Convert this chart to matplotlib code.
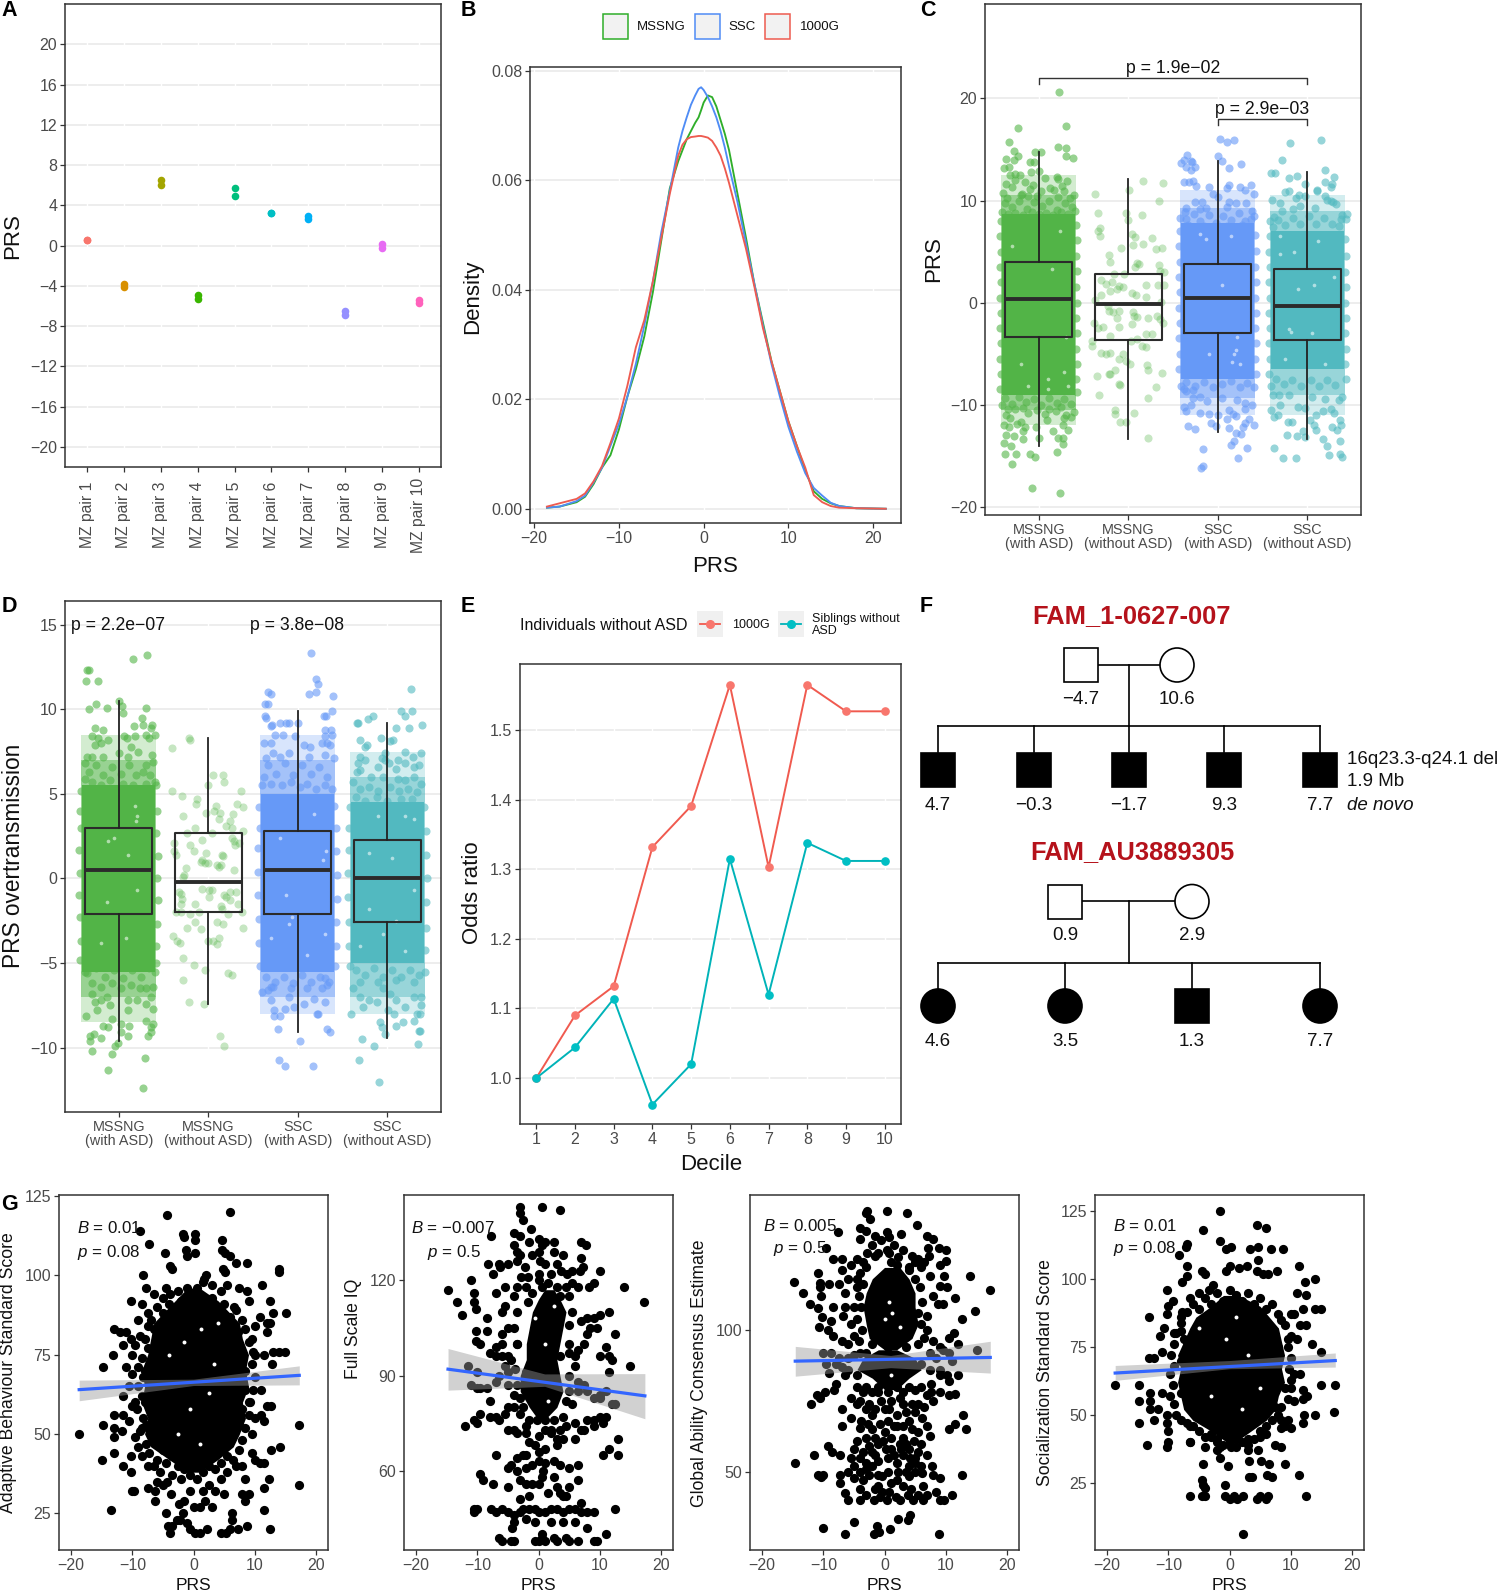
import matplotlib
matplotlib.use('Agg')
import matplotlib.pyplot as plt
from matplotlib.patches import Rectangle, Ellipse

plt.rcParams['font.family'] = ['Liberation Sans', 'DejaVu Sans']
plt.rcParams['mathtext.fontset'] = 'custom'
plt.rcParams['mathtext.rm'] = 'Liberation Sans'
plt.rcParams['mathtext.it'] = 'Liberation Sans:italic'

W, H = 1500, 1592
DARK = '#333333'
GREEN, BLUE, TEAL = '#52B447', '#6699F7', '#52B9C0'
RED_LINE = '#F05A4F'

# ---------- Panel A ----------
mz_labels = ['MZ pair %d' % i for i in range(1, 11)]
mz_first = [0.6, -3.8, 6.5, -4.9, 5.7, 3.2, 2.9, -6.5, 0.2, -5.4]
mz_second = [0.6, -4.1, 6.0, -5.3, 4.9, 3.2, 2.6, -6.9, -0.2, -5.7]
mz_colors = ['#F8766D', '#D89000', '#A3A500', '#39B600', '#00BF7D', '#00BFC4', '#00B0F6', '#9590FF', '#E76BF3', '#FF62BC']

# ---------- Panel B ----------
dens_x = [-18.5, -17, -15, -14, -13, -12, -11, -10, -9, -8, -7, -6, -5, -4, -3, -2.5, -2, -1.5, -1, -.6, -.3, 0, .5, 1, 1.5, 2, 2.5, 3, 4, 5, 6, 7, 8, 9, 10, 11, 12, 13, 14, 15, 16, 18, 21.5]
dens_mssng = [.0002, .0004, .0012, .0022, .0045, .0075, .0098, .0145, .0205, .0255, .0315, .0395, .049, .0585, .0635, .0655, .0675, .069, .0705, .0715, .0728, .0742, .0755, .0752, .0735, .071, .0685, .0655, .0575, .0495, .041, .034, .027, .0215, .016, .0115, .007, .0032, .0018, .001, .0005, .0001, 0]
dens_ssc = [.0002, .0004, .0014, .0024, .0048, .0075, .0115, .0155, .0205, .0265, .0335, .0415, .0505, .058, .066, .069, .0715, .0738, .0755, .0767, .077, .0765, .0752, .0735, .0715, .069, .066, .0625, .056, .0485, .041, .0335, .0265, .0205, .015, .0105, .0065, .0038, .0024, .0011, .0005, .0001, 0]
dens_1000g = [.0004, .001, .0018, .0028, .005, .0078, .012, .0165, .0225, .0295, .0345, .0415, .0495, .0575, .0645, .0665, .0675, .0679, .068, .0681, .0681, .068, .0678, .0672, .066, .0645, .0622, .0595, .0535, .0475, .0405, .033, .027, .0215, .016, .0115, .0075, .0025, .0012, .0005, .0002, .0001, 0]

# ---------- Panels C, D ----------
group_labels = ['MSSNG\n(with ASD)', 'MSSNG\n(without ASD)', 'SSC\n(with ASD)', 'SSC\n(without ASD)']
c_box = [(-3.4, 0.4, 4.0, -14.0, 14.8), (-3.7, -0.15, 2.8, -13.4, 12.1), (-3.0, 0.45, 3.8, -12.7, 13.9), (-3.7, -0.3, 3.3, -13.4, 12.8)]
d_box = [(-2.1, 0.5, 3.0, -9.6, 10.5), (-2.0, -0.2, 2.7, -7.4, 8.3), (-2.1, 0.5, 2.8, -9.1, 9.9), (-2.55, 0.05, 2.25, -9.4, 9.2)]
# overplotted part of each cloud: y ranges, from thin coverage to saturated
c_cloud = [[(-12.0, 12.5), (-10.5, 10.5), (-9.0, 8.7)], None, [(-11.0, 11.0), (-9.3, 9.3), (-7.5, 7.8)], [(-11.0, 10.5), (-9.0, 9.0), (-6.5, 7.0)]]
d_cloud = [[(-8.5, 8.5), (-7.0, 7.0), (-5.5, 5.5)], None, [(-8.0, 8.5), (-7.0, 7.0), (-5.5, 5.0)], [(-8.0, 7.5), (-7.0, 6.0), (-5.0, 4.5)]]
cloud_alpha = [.25, .45, 1.0]
cloud_halfwidth = [.42, .42, .41]

c1_pts = [(.23,20.6),(-.23,17.1),(.31,17.3),(-.33,15.7),(.21,15.2),(.30,15.1),(-.28,14.9),(-.04,14.8),(.03,14.8),(-.23,14.4),(-.36,14.1),(-.28,14),(.31,14.4),(.38,14.2),(-.1,13.8),(-.05,13.8),(-.39,13.2),(-.33,13.3),(-.09,12.8),(0,12.9),(-.32,12.5),(-.21,12.5),(.2,12.3),(.07,12.2),(.32,11.9),(-.26,12),(-.37,11.6),(.26,11.4),(-.15,11.8),(.39,10.5),(-.4,10.7),(.13,11.2),(-.1,11.1),(.03,10.9),(.28,10.9),(-.3,11.3),(-.19,10.6),(.22,12.1),(-.27,12.6),(.17,11.0),(-.06,11.5),(-.39,-12),(-.37,-13),(-.39,-13.7),(-.31,-14),(-.38,-14.8),(-.25,-14.8),(-.3,-15.8),(-.1,-14.8),(-.04,-15.1),(.2,-14.6),(-.08,-18.2),(.24,-18.6),(.27,-13.8),(.22,-13.3),(.27,-13.3),(.33,-12.5),(.16,-12.6),(.27,-12),(0,-13.3),(-.18,-13.4),(-.28,-13.1),(-.15,-12.2),(-.24,-11.9),(-.32,-11.3),(.09,-11.5),(.31,-11),(.19,-10.6),(-.26,-10.4),(-.12,-10.8),(-.37,-11),(.39,-10.7),(.07,-10.9),(-.2,-11.7),(.36,-11.2),(-.18,-12.6),(-.33,-12.2),(.28,-11.3),(-.03,-12.2),
(-.38,9.8),(-.3,9.4),(-.22,10),(-.13,9.2),(-.05,9.9),(.04,9.5),(.12,10),(.2,9.1),(.29,9.8),(.37,9.4),(-.41,8.9),(-.34,8.7),(-.26,8.8),(-.17,8.6),(-.08,8.9),(0,8.7),(.08,8.8),(.16,8.6),(.25,8.9),(.33,8.7),(.41,9),(-.35,10.2),(-.2,10.5),(-.02,10.4),(.22,10.3),(.35,10.2),(-.12,10.4),(-.38,-9.3),(-.3,-9.9),(-.22,-9.2),(-.14,-9.7),(-.05,-9.4),(.03,-10),(.11,-9.3),(.2,-9.8),(.28,-9.4),(.36,-9.9),(-.41,-10),(-.34,-10.4),(-.18,-10.3),(-.02,-10.5),(.12,-10.4),(.25,-10.2),
(-.42,8),(.42,7.6),(-.43,6.5),(.43,6.1),(-.42,5),(.42,4.6),(-.43,3.5),(.43,3.1),(-.42,2),(.42,1.5),(-.43,.5),(.43,0),(-.42,-1),(.42,-1.5),(-.43,-2.5),(.43,-3),(-.42,-4),(.42,-4.5),(-.43,-5.5),(.43,-6),(-.42,-7),(.42,-7.5),(-.43,-8.5),(.43,-8.8)]
c1_specks = [(.28,-6.8),(.1,-7.5),(-.12,-8.2),(.24,7),(.1,-8.5),(-.3,5.5),(.31,-3.4),(.15,3.3),(-.2,-6),(.33,-8.2)]
c2_pts = [(-.37,10.6),(-.34,8.8),(-.31,7.3),(-.34,7),(-.32,6.5),(.17,11.9),(.39,11.7),(.01,11),(.34,10),(-.03,8.8),(0,8.1),(.15,8.6),(.04,6.7),(.07,6.4),(.27,6.3),(.16,5.7),(.05,5.6),(-.08,5.4),(.31,5.3),(.38,5.4),(-.22,4.7),(-.2,4),(.1,3.9),(.12,3.8),(.34,3.7),(.4,3.0),(.35,3.1),(-.16,2.8),(-.05,2.8),(.08,3.5),(-.3,2.2),(-.25,1.8),(-.18,2),(-.1,1.6),(-.06,1.5),(.2,1.7),(.33,1.7),(.4,1.7),(-.37,.3),(-.3,.7),(-.2,1.1),(-.13,1.3),(.04,.9),(.09,.7),(.2,.6),(.37,.1),(-.23,-.3),(-.22,-.8),(-.17,-.9),(-.1,-.8),(.05,-.9),(.06,-1.3),(.1,-1.4),(.22,-1.5),(.32,-1.3),(.36,-1.6),(.39,-2),(-.12,-1.5),(-.38,-2),(-.28,-2.4),(-.34,-2.5),(-.1,-2.4),(.04,-2.1),(.2,-3.1),(.27,-3.1),(-.2,-3.3),(-.4,-3.8),(-.4,-4.2),(-.3,-4.9),(-.25,-5),(-.2,-4.9),(-.06,-5),(.15,-4.2),(.2,-4.3),(.1,-3.6),(.03,-3.8),(-.03,-5.7),(-.1,-5.5),(.02,-6),(.21,-6.1),(.22,-6.6),(-.15,-6.6),(-.22,-7),(-.35,-7.2),(-.2,-7),(.38,-6.9),(-.1,-8),(-.09,-8.1),(.31,-8.3),(-.33,-9),(.22,-9.3),(-.15,-10.5),(-.15,-10.9),(.06,-10.8),(-.09,-11.7),(-.03,-11.7),(.22,-13.3)]
c3_pts = [(.02,16),(.1,15.7),(.18,15.9),(0,14.4),(-.34,14.5),(-.38,14),(-.3,13.9),(-.41,13.7),(-.36,13.3),(-.29,13.8),(-.3,13),(-.25,13.3),(.05,13.9),(.26,13.6),(.13,13.2),(-.38,11.8),(-.32,11.8),(-.28,11.9),(-.24,11.4),(-.1,11.3),(.1,11.2),(.13,11.5),(.25,11.3),(.37,11.5),(.3,11),(.4,10.6),(-.05,10.6),(0,10.3),(-.25,9.9),(-.18,9.9),(.13,9.9),(.2,9.8),(.32,9.8),(-.36,9.3),(-.37,8.9),(.38,9),(-.42,8.3),(.1,9.4),(-.13,9.3),(.4,8.5),(-.2,9.2),
(-.35,8.2),(-.27,8.7),(-.2,8),(-.1,8.6),(-.02,7.8),(.06,8.5),(.15,8.1),(.24,8.8),(.3,8),(.37,8.2),(-.33,7.6),(-.15,7.5),(.1,7.5),(.27,7.6),
(-.42,7),(.42,6.6),(-.43,5.5),(.43,5.1),(-.42,4),(.42,3.5),(-.43,2.5),(.43,2),(-.42,1),(.42,.5),(-.43,-.5),(.43,-1),(-.42,-2),(.42,-2.5),(-.43,-3.5),(.43,-4),(-.42,-5),(.42,-5.5),(-.43,-6.5),(.43,-7),
(-.35,-7.8),(-.25,-8.2),(-.15,-7.8),(-.05,-8.3),(.05,-8),(.15,-7.7),(.25,-8.3),(.33,-7.9),(.4,-8.3),(-.41,-8.2),
(-.38,-8.5),(-.35,-8.7),(-.28,-8.6),(-.2,-9.2),(-.38,-10.2),(-.36,-10.6),(-.3,-10),(-.2,-10.8),(-.1,-10.9),(.13,-10.5),(.17,-10.9),(.3,-9.8),(.38,-10),(.3,-10.4),(.2,-11.1),(.35,-11.4),(.4,-12),(.3,-11.8),(-.33,-12.1),(-.25,-12.4),(-.08,-11.8),(-.02,-12.1),(.13,-12.3),(.28,-12.2),(.26,-12.9),(.2,-12.8),(-.17,-14.3),(.18,-13.6),(.15,-13.9),(.33,-14.2),(.23,-15.2),(-.17,-16),(-.19,-16.2),(.1,-11.4),(0,-11),(-.12,-9.6),(.05,-9.3),(.22,-9.5),(-.28,-9.3)]
c3_specks = [(.2,-4.6),(.18,-5),(.16,-5.8),(-.1,-5),(.25,-6),(.22,-3.4),(-.2,6.7),(.15,6.5),(-.13,6.2),(.05,1.7)]
c4_pts = [(.15,15.9),(-.19,15.6),(-.28,14),(-.4,12.7),(-.36,12.7),(-.2,12.2),(-.11,12.4),(.2,13),(.3,12.3),(.2,11.8),(.28,11.6),(.26,11.3),(-.02,11.6),(.11,10.9),(.11,11),(-.2,10.9),(-.25,10.8),(-.39,10.1),(-.13,10.2),(-.09,10.5),(-.03,10.4),(.2,10.4),(.22,10.1),(.26,10),(.29,9.9),(.32,9.7),(-.3,9.8),(-.16,9.2),(-.08,9.5),(.09,9.3),(.39,8.6),(.44,8.7),(.43,8.2),(-.42,8),(-.37,8.4),(-.28,9),(.38,8.2),
(-.33,8.1),(-.25,7.6),(-.16,8.3),(-.08,7.7),(.02,8.5),(.1,7.7),(.19,8.3),(.28,7.7),(.35,7.5),(-.38,7.4),
(-.42,6.5),(.42,6.2),(-.43,5),(.43,4.6),(-.42,3.5),(.42,3),(-.43,2),(.43,1.5),(-.42,.5),(.42,0),(-.43,-1),(.43,-1.5),(-.42,-2.5),(.42,-3),(-.43,-4),(.43,-4.5),(-.42,-5.5),(.42,-6),(-.43,-7),(.43,-7.5),
(-.35,-7.5),(-.26,-8),(-.17,-7.6),(-.07,-8.2),(.04,-7.6),(.13,-8.2),(.22,-7.6),(.31,-8.1),(-.4,-8.2),
(-.38,-9),(-.32,-9),(-.3,-10),(-.4,-10.5),(-.37,-11.2),(-.33,-11),(-.22,-11.7),(-.17,-11.7),(-.1,-10.2),(-.03,-10.3),(.03,-11.5),(.1,-11),(.18,-10.6),(.27,-10.4),(.35,-9.5),(.39,-9.2),(.3,-10.8),(.37,-11.5),(.38,-12),(.28,-12.2),(.33,-12.5),(.08,-12),(.1,-12.5),(-.05,-12.6),(-.12,-13.1),(-.23,-13),(-.02,-13.2),(.18,-13.4),(.37,-13.6),(.22,-14),(.24,-14.9),(.37,-14.8),(.39,-15.1),(-.37,-14.2),(-.27,-15.2),(-.13,-15.2),(-.2,-9),(.05,-9.2),(.2,-9.4)]
c4_specks = [(-.2,-2.6),(-.18,-2.9),(-.3,4.8),(-.1,1.3),(.08,1.7),(-.15,5),(.12,6),(-.25,-5.5),(.2,-6),(.3,2.5),(.05,-3),(-.3,6.5)]

d1_pts = [(-.35,12.3),(-.33,12.3),(-.36,11.7),(-.23,11.7),(.16,13),(.32,13.2),(-.33,10),(-.25,10.3),(-.13,10.1),(0,10.5),(.04,10.2),(.3,10.1),(.26,9.5),(.05,9.8),(.37,9.1),(.36,8.9),(-.27,8.9),(-.18,8.8),(.17,9),(.27,9.1),(-.3,8.4),(-.23,8.3),(.06,8.4),(.09,8.3),(.18,8.4),(.3,8.5),(.34,8.3),(.4,8.5),(-.12,8.2),(-.26,7.9),(-.2,8),(.14,7.8),(.37,7.3),(-.35,7.2),(-.3,7.2),(-.18,7.2),(0,7.4),(.1,7.2),(.22,7.5),(.38,6.9),(-.38,6.8),(.3,6.7),(-.33,6.3),(-.25,6.7),(-.17,6.1),(-.08,6.6),(.02,6.2),(.11,6.7),(.19,6.1),(.27,6.3),(.35,6.1),(-.38,5.9),(-.3,5.7),(-.2,5.5),(-.1,5.8),(.05,5.6),(.16,5.5),(.3,5.6),(.4,5.7),
(-.42,5.2),(.42,5.5),(-.43,4),(.43,4),(-.42,3),(.42,2.7),(-.44,1.7),(.44,1.3),(-.43,.3),(.43,0),(-.44,-1),(.44,-1.3),(-.43,-2.3),(.43,-2.7),(-.42,-3.7),(.42,-4),(-.43,-4.8),(.42,-5),
(-.35,-5.6),(-.25,-5.3),(-.15,-5.8),(-.05,-5.4),(.05,-5.9),(.15,-5.4),(.25,-5.8),(.34,-5.3),(-.3,-6.2),(-.2,-6.4),(-.08,-6.2),(.03,-6.5),(.14,-6.3),(.24,-6.5),
(-.3,-6.8),(-.36,-8.1),(-.27,-7.3),(-.2,-7.2),(-.13,-7),(.1,-7.2),(.2,-7.2),(.36,-7),(.3,-6.5),(.38,-6.4),(-.38,-5.5),(.4,-5.5),(-.24,-7.8),(-.1,-7.5),(.1,-7.8),(.3,-7.4),(.38,-7.7),(.3,-8.4),(.38,-8.6),(.36,-8.8),(-.18,-8.7),(-.12,-8.8),(-.08,-8.3),(.02,-8.6),(.11,-8.7),(-.32,-9.3),(-.28,-9.2),(-.2,-9.4),(-.32,-9.6),(-.3,-10.2),(-.04,-9.9),(-.01,-9.7),(.02,-9.1),(.1,-9.3),(.36,-9.1),(.33,-9.3),(-.08,-10.4),(.29,-10.6),(-.12,-11.3),(.27,-12.4)]
d1_specks = [(.2,3.7),(.19,3.4),(-.12,2.2),(.1,1.4),(-.13,-1.4),(.2,-.7),(.08,-3.5),(.18,4.3),(-.2,-3.8),(-.05,2.4)]
d2_pts = [(-.22,8.3),(-.2,8.2),(-.4,7.7),(.05,6.1),(.16,6.1),(.18,5.7),(0,5.5),(-.4,5.2),(-.29,4.9),(.37,5.2),(-.12,4.7),(-.14,4.4),(.32,4.4),(.39,4.2),(.09,4.3),(.06,4),(-.03,3.9),(.13,3.9),(.28,3.8),(.12,3.5),(-.28,3.7),(.24,3.4),(.27,3),(-.15,3),(.2,3.1),(.39,2.8),(-.24,2.7),(.04,2.7),(-.38,2.1),(-.07,2.3),(.26,2.4),(.29,2.2),(.34,2.1),(.3,2),(-.2,2),(-.16,1.6),(-.38,1.6),(-.36,1.4),(-.02,1.5),(.15,1.4),(.16,1.3),(-.07,1.1),(-.08,1),(-.04,.9),(0,.9),(.1,.8),(.12,.7),(.14,.8),(.29,.5),(-.25,.6),(-.27,.2),(-.28,.1),(-.07,-.6),(.01,-.7),(.04,-.7),(-.33,-.8),(-.3,-.9),(-.29,-1.2),(.01,-1.1),(.18,-1),(.2,-1.1),(.24,-.8),(.31,-.8),(.33,-1.5),(-.3,-1.5),(-.15,-1.5),(.14,-1.6),(.24,-1.3),(.15,-1.8),(.38,-2),(-.36,-2),(-.3,-2),(-.2,-2.1),(-.1,-2),(.22,-2.1),(.1,-2.6),(.17,-2.7),(.39,-2.9),(-.15,-2.6),(-.24,-2.9),(-.08,-3),(-.39,-3.4),(-.35,-3.7),(-.32,-3.8),(0,-3.7),(.05,-3.7),(.12,-3.5),(.1,-3.9),(-.28,-4.7),(-.16,-5.1),(-.04,-5.4),(.22,-5.6),(.26,-5.7),(-.28,-6),(-.21,-7.3),(-.05,-7.4),(.13,-9.3),(.18,-9.9)]
d3_pts = [(.15,13.3),(.2,11.8),(.23,11.5),(.2,11),(.12,10.9),(-.33,11),(-.3,10.9),(.39,10.8),(-.37,10.3),(-.33,10.3),(.38,9.9),(-.37,9.6),(-.36,9.5),(.29,9.6),(.31,9.6),(-.29,9.1),(-.2,9.2),(-.13,9.2),(-.1,9.2),(0,9.2),(-.3,9),(.3,8.8),(.37,8.8),(-.25,8.5),(-.17,8.5),(-.03,8.4),(.3,8.4),(.38,8.5),(-.38,8),(-.3,8),(.27,8),(.33,8),(.07,7.9),(.14,7.8),(.36,7.9),(-.28,7.4),(.3,7.3),(.4,7.1),(-.36,7.1),(-.2,7.2),(-.1,7.4),(.13,7.2),
(-.33,6.7),(-.24,6.2),(-.14,6.8),(-.05,6.1),(.05,6.7),(.15,6.2),(.24,6.6),(.33,6),(-.38,6),(-.3,5.6),(-.18,5.5),(-.08,5.7),(.03,5.4),(.1,5.6),(.2,5.3),(.3,5.5),(.38,5.3),(-.4,5.5),(.41,4.3),
(-.43,4.2),(-.42,3),(.43,3),(-.44,1.8),(.43,1.6),(-.44,.4),(.44,.2),(-.44,-1),(.44,-1.2),(-.43,-2.4),(.43,-2.6),(-.43,-3.8),(.43,-4),(-.42,-5.2),(.42,-5.2),
(-.35,-5.8),(-.25,-6.1),(-.15,-5.8),(-.05,-6.2),(.05,-5.7),(.15,-6.1),(.25,-5.8),(.35,-6.1),(-.3,-6.4),(-.08,-6.5),(.1,-6.5),(.3,-5.9),
(-.4,-6.7),(-.33,-6.6),(-.28,-6.4),(-.3,-7.2),(-.27,-7.8),(-.26,-8.1),(-.2,-8.1),(-.14,-7.7),(-.1,-7),(-.04,-7.6),(.07,-7.4),(.18,-7.1),(.27,-6.5),(.3,-7.3),(.33,-6.3),(.22,-8),(.23,-8),(.33,-8.9),(.36,-9.1),(-.22,-8.9),(.03,-9.6),(-.21,-10.7),(-.14,-11.1),(.17,-11.1)]
d3_specks = [(-.1,-2.7),(-.06,-2.3),(.31,1.6),(.28,1.1),(-.2,2.4),(-.13,-1),(.18,3.8),(.3,-3.3),(-.3,-3.5),(.1,-4.5)]
d4_pts = [(.26,11.2),(.15,9.9),(.2,9.6),(.28,9.9),(.39,9.1),(-.34,9.2),(-.33,9.2),(-.22,9.4),(-.16,9.6),(.24,8.9),(.1,8.9),(-.3,8.2),(.03,8.1),(.06,8.2),(-.23,7.9),(-.25,7.8),(-.07,8.3),(-.3,7.2),(-.25,7),(-.06,7.1),(-.03,7),(-.02,7.4),(.2,7.5),(.29,7.2),(.38,7.4),(-.33,6.8),(.02,6.8),(.12,7),(.2,6.8),(.35,6.7),(-.3,6.4),(-.34,6.3),(.1,6.5),(-.1,6.6),(.3,6.6),(-.18,6),(-.05,6),(.12,5.9),(.2,5.8),(.3,6),(-.38,5.7),(.38,5.6),
(-.3,5.3),(-.2,5.4),(-.1,5.2),(.03,5.4),(.13,5.2),(.23,5.3),(.33,5.1),(-.35,4.8),(-.25,4.6),(-.12,4.8),(0,4.6),(.15,4.7),(.28,4.7),
(-.42,4.2),(.41,4.2),(-.43,3),(.43,2.8),(-.43,1.7),(.43,1.4),(-.44,.3),(.44,0),(-.44,-1.1),(.43,-1.4),(-.43,-2.6),(.43,-2.9),(-.43,-4),(.42,-4.2),(-.42,-5.2),(.42,-5.5),
(-.35,-5.4),(-.25,-5.7),(-.15,-5.3),(-.05,-5.8),(.05,-5.4),(.15,-5.8),(.25,-5.4),(.35,-5.7),(-.3,-6.1),(-.1,-6.1),(.1,-6),(.3,-6.1),
(-.38,-6.5),(-.3,-7),(-.27,-7.6),(-.2,-7.2),(-.12,-7.3),(-.05,-6.5),(.03,-6.8),(.1,-7.2),(.2,-7.6),(.3,-7),(.38,-7),(.38,-7.5),(.37,-8),(.33,-8),(.3,-8.4),(-.4,-8),(.08,-8),(.01,-7.8),(-.08,-8.5),(-.06,-8.8),(.1,-8.7),(.17,-8.5),(-.03,-9.2),(.36,-9),(.35,-9),(-.28,-9.5),(-.15,-9.9),(.34,-9.8),(-.32,-10.7),(-.09,-12)]
d4_specks = [(.2,3.7),(.05,1.2),(-.2,1.5),(-.05,-3.3),(.1,-2.5),(.3,3.5),(-.3,-4),(.2,-4.3),(-.1,3.7),(.3,-.7),(-.2,-1.8)]

# ---------- Panel E ----------
deciles = [1, 2, 3, 4, 5, 6, 7, 8, 9, 10]
or_1000g = [1.0, 1.09, 1.132, 1.332, 1.391, 1.565, 1.303, 1.565, 1.527, 1.527]
or_sibs = [1.0, 1.044, 1.114, 0.962, 1.02, 1.315, 1.12, 1.338, 1.312, 1.312]

# ---------- Panel F ----------
fam1_title = 'FAM_1-0627-007'
fam1_parents = ['\u22124.7', '10.6']
fam1_kids = ['4.7', '\u22120.3', '\u22121.7', '9.3', '7.7']
fam2_title = 'FAM_AU3889305'
fam2_parents = ['0.9', '2.9']
fam2_kids = ['4.6', '3.5', '1.3', '7.7']
fam2_kid_sex = ['f', 'f', 'm', 'f']

# ---------- Panel G ----------
g_titles = ['Adaptive Behaviour Standard Score', 'Full Scale IQ', 'Global Ability Consensus Estimate', 'Socialization Standard Score']
g1_pts = [(-18.7,50),(-14.8,71),(-14.8,53),(-15,42),(-13.5,26),(-13,83),(-13.2,75),(-13,56),(-13,52),(-13,44),(-13,49),(-12,82),(-11.5,78),(-11.5,56),(-11.7,51),(-11.5,40),(-11,82),(-10.3,80),(-10.3,92),(-10.2,38),(-10,32),(-10.2,43),(-8.7,114),(-8.3,100),(-7.3,110),(-8.5,91),(-7.7,96),(-4.3,119),(-4.6,107),(-3.8,103),(-3.5,102),(-1.7,113),(-1.5,112),(.3,113),(.3,111),(-1.2,108),(-1,106),(.2,107),(4.6,111),(4.7,108),(5.2,107),(6,106),(6,120),(7,104),(8.7,104),(4.8,102),(5.2,101),(14,102),(14,101),(11.2,97),(12.5,92),(15.2,88),(13,88),(12.5,85),(13,76),(14,76),(15,76),(11.5,75),(12,82),(17.2,53),(17.2,34),(14.2,46),(12.7,45),(12.5,20),(11.5,26),(12.3,36),(11.5,33),(8.7,21),(8,31),(8.5,29),(9,31),(6.3,25),(6.3,23),(6,20),(5.3,19),(4.5,19),(7.3,20),(2.2,20),(1,19),(.3,19),(-.5,20),(-1,22),(-1.7,25),(-2.2,23),(-2.7,23),(-3.5,21),(-3.8,19),(-4.2,21),(-4.5,25),(-3.7,31),(-2.3,28),(-1.5,29),(0,27),(1.8,29),(1,27),(3,27),(-6.3,29),(-6.3,32),(-7.5,33),(-9.8,32),(-6,35),(-5,34),(-4.3,35),
(-10,69),(-11,71),(-10,75),(-9.5,78),(-9,86),(-8.7,81),(-10.5,65),(-11.5,62),(-10,59),(-10.5,54),(-9.5,49),(-9,46),(-8.5,43),(-7.5,40),(-6.5,40),(-5.5,38),(-3.5,37),(-2,36),(-.5,32),(1.5,32),(2.5,34),(3.5,32),(5,31),(5.5,38),(4.5,36),(7,40),(8,40),(8.5,36),(9.5,44),(10,42),(10.8,41),(11.5,41),(9.5,50),(10,55),(11,56),(12,59),(12.7,59),(11.5,54),(11,64),(12.8,72),(12,85),(10.8,87),(10,84),(9.5,80),(10,75),(8.8,95),(9,92),(7.5,96),(6.7,90),(5.5,97),(4.5,95),(3,97),(1.5,98),(.5,96),(-1,96),(-2.5,95),(-3.8,94),(-5,93),(-6.5,94),(-7.5,88),(-7.5,84),(2,100),(1.7,99),(-4.5,96),(-9.5,60),(-8.5,52),(9,60),
(-6,90),(-5,88),(-4,91),(-3,89),(-2,92),(-1,90),(0,93),(1,91),(2,90),(3,93),(4,89),(5,91),(6,87),(7,89),(-7,86),(-6.5,83),(-8,80),(-7.5,77),(-8.5,74),(-9,71),(-8.2,68),(-9,65),(-8.5,62),(-9.2,58),(-8.3,55),(-8.7,51),(-7.8,47),(-7.2,44),(-6,42),(-5,45),(-4.5,41),(-3.5,43),(-2.5,40),(-1.5,39),(-.5,37),(.5,36),(1.5,38),(2.5,40),(3.5,39),(4.5,41),(5.5,43),(6.5,42),(7.5,45),(8,48),(8.5,52),(9,56),(9.3,60),(9.7,64),(10,68),(9.5,72),(9.7,76),(9,79),(8.5,83),(8,86),(7.2,82),(8.5,70),(8,58),(8.5,64),(-8,60),(-8,70),(-7.8,53),(7.5,53),(7.5,75)]
g2_pts = [(-14.8,117),(-13.3,113),(-12.5,109),(-11,120),(-10.5,116),(-10.5,113),(-10.3,111),(-10.3,104),(-10.3,101),(-9.5,100),(-8.5,104),(-8.5,108),(-8.3,125),(-7.7,134),(-7.5,122),(-7,116),(-6.5,125),(-6.3,124),(-3,141),(-3,143),(.5,143),(3.5,142),(-2.5,139),(-4,135),(-3,134),(-1.3,136),(-4,131),(-3.5,129),(-3,128),(-1.5,132),(0,133),(.5,131),(1,132),(2.5,132),(7,132),(7.8,131),(0,129),(2.5,129),(.3,126),(7,127),(-5,125),(-2.2,124),(7.2,124),(-1.7,121),(3.7,123),(4.7,122),(5.5,123),(6.8,123),(10,123),(-2.8,121),(-5.5,118),(0,120),(1.5,119),(3,118),(4.5,118),(5.5,119),(6.5,118),(8.2,118),(9,119),(14,118),(17.3,113),(11.5,110),(10,109),(9,108),(8,108),(7,107),(9.5,105),(8.5,105),(8,103),(12.5,103),(11,99),(11.5,96),(10,96),(12,95),(15,93),(11.5,91),(7.5,100),(6.5,98),(6,96),(-5,105),(-6,103),(-6,100),(-7,99),(-8,97),(-7,96),(-6,96),(-5,96),(-3.5,100),(-5.5,112),(-6,110),(-11.5,93),(-10,91),(-11,87),(-10,86),(-9.5,86),(-8.5,86),(-7,88),(-5,87),(-3.5,87),(-2,85),(-8,82),(-7,77),(-8,77),(-6.5,76),(-5.5,78),(-5,80),(-12,74),(-10.5,76),(-10,75),(-9.5,78),(11,85),(10,83),(10,84),(12,81),(12.5,81),(9,76),(10,77),(11,77),(10.5,75),(9,74),(8,76),(7.5,73),(6,75),(7,73),(-5,73),(-4,73),(-3.5,72),(-2,72),(0,71),(2,72),(3.5,73),(4.5,74),(-1.5,69),(-.5,68),(1,67),(3,68),(4,70),(6,70),(13,70),(11.5,67),(10.5,65),(13,65),(-2.5,65),(-2,65),(-3.5,64),(-4.5,62),(-5,61),(-3.5,60),(-2,61),(-1,62),(0,63),(1,62.5),(2.5,63),(3.5,62),(5,61),(6.5,62),(.7,60),(-7,65),(-9.5,59),(-9,57),(-7.5,56),(-5,55),(-3,57),(-2,56),(-1,56),(0,56),(2.5,58),(3,55),(3.5,53),(4,52),(4.5,52),(6.5,57),
(-10.5,48),(-10.5,47),(-10,48),(-7.7,48),(-7,47),(-6,48),(-5,47),(-4,46),(-3,47),(-2.5,48),(-1.5,48),(-.5,48),(0,47),(1,47),(2,48),(3,48),(4,47),(5,48),(6,48),(7,47),(8,47),(9,47),(12.5,48),(-4,44),(-.5,44),(4,44),(8,42),(11,40),(-6.5,39),(-6,38),(-4.5,38),(-4,38),(-.5,38),(0,38),(.5,39),(1,38),(2.5,39),(3,38),(4.5,39),(5,38),(6.5,38),(9.5,38),(9,38),(.5,40),(-4.3,42),
(-4,115),(-3.5,110),(-4,105),(-3.5,100),(-4.5,95),(-3.8,92),(5,115),(5.5,110),(5,106),(5,100),(6,93),(5,90),(6.5,88),(7.5,87),(8,85),(9,83),(5,85),(4.5,82),(5.5,81),(-3,83),(-2.5,80),(-4,80),(-3,78),(-1.5,76),(-.3,76),(1,76),(2.5,76),(4,77),(-2,74),(3,70),(1,73),(-3.5,118),(-2,118),(-1,116),(.5,118),(2,115),(3.5,115),(-1.7,113),(0,122),(1,125),(2,122),(3,125),(-3.5,126),(-1,128),(4,128),(-2,91),(-.5,95),(1,96),(2,94),(3.5,96),(5,97),(-5,91),(-6.5,90),(-5.5,93),(-4,84),(6.5,85),(2,73),(0,66),(.5,58),(1.5,53),(-1.5,52),(-3,51),(-2,45),(2,44),(6,44),(7,50),(5,55)]
g3_pts = [(-14.8,117),(-13.3,113),(-12.2,109),(-10.9,120),(-10.5,116.5),(-10.5,115),(-10.4,112),(-10.9,107.7),(-10.3,104.4),(-10.7,101),(-9,116),(-8.4,108),(-8.5,125),(-9.5,129),(-7.6,134.4),(-7.4,116),(-8.7,103),(-9.2,100),(-8.4,98),(-6.8,105),(-6.5,108),(-6.4,113),(-7,121),(-6.9,125),(-2.9,142),(-3.1,141),(.4,142),(3.6,141),(-2.4,139),(5.3,137),(-4,136),(-3.1,135),(.4,134.4),(2.7,133.8),(-1.5,133),(7,133),(8,132),(-4,132),(-.5,131.5),(.7,132.6),(7.1,129),(8.9,129),(10,128),(.4,128),(.7,127),(2.2,125.8),(-2.9,127),(7.3,126),(10,124.4),(9.1,123),(14,119),(17.3,114),(14.8,106.6),(12.6,104),(11.6,111.4),(9.8,119),(9.1,115.6),(10.2,115),(8.7,109),(9.5,109),(11.3,99),(10.5,97),(12,95),(15.2,93),(-6,118),(-5.5,123),(-4.5,125),(-3,122),(6,122),(7.5,119),(5.5,125),(4.5,126),(3,128),(8,112),(7,105),(7,100),(8,96),(9,94),(-5.5,102),(-5,108),(-4.5,115),(-5,98),(-6,95),(-7,96),(-4,92),(5,118),(4,122),(-1.5,126),(1,124),(-2,130),(1.5,130),
(-14.7,53),(-11.6,56),(-10.8,49),(-10,49),(-10.4,48.3),(-9.2,59),(-8.6,57),(-7.3,56),(-7.3,49),(-7.3,46),(-6,50),(-6.5,42.5),(-6,40),(-4,40),(-4,44),(-5,48),(-1.7,40),(-.4,43),(.4,40),(2.5,40),(4.7,40),(6.3,40),(9,40),(9.8,40),(11.1,42),(8.4,43),(6.3,45),(4.4,44),(12.6,49),(9,48),(8,49),(6.1,49.5),(4,48.5),(2.2,50),(-.4,48.5),(-2.5,49),(-4,50),(-10,30.4),(-6.5,28),(-5,32.5),(-1.7,28),(-1.3,31),(-.9,29),(.9,30),(2.2,33.5),(3.9,33),(4.2,35),(8.9,28),
(-12,74),(-11,77),(-10.5,76),(-9.7,78),(-8.2,79),(-7.9,81),(-6.5,84),(-6.9,72),(-5.5,69),(-6.9,66),(-4,65.5),(10.6,65),(11.6,67),(12.9,70),(13.4,65),(7.5,62.5),(6.2,69),(5.5,74),(7.6,78),(9,78),(10.5,77),(11.6,77.5),(10.2,84),(12,84),(7.6,81),(9,86),(-4,75),(-4.5,80),(-3,72),(-2,70),(-1,78),(0,72),(1,75),(2,70),(3,74),(4,68),(5,71),(-3,62),(-2,65),(-1,60),(0,64),(1,58),(2,66),(3,62),(4,58),(5,55),(6,60),(7,56),(-5,58),(-4,55),(-3,53),(-2,57),(-1,54),(.5,55),(2,53),(3,56),(4,52),(5,50),(-3.5,47),(-1,45),(1,46),(3,45),
(-3.5,124),(-1,127),(2,123),(4,121),(5,124),(6.5,124),(-4,120),(-4.5,118),(-3.5,116),(-4.2,112),(-3.8,108),(-4.5,104),(-3.7,100),(-4.2,96),(5.8,115),(6.2,110),(5.5,106),(6,102),(6.5,97),(5.5,95),(-2,95),(-1,97),(.5,94),(2,96),(3.5,94),(7.5,92),(8.5,90),(9.5,93),(10.5,92),(11,89),(-3,92),(-5,91),(-6,90),(-7.5,90),(-8.7,92),(-10,92),(-9.5,88),(-9,85),(-8,88),(-7,87),(-6,86),(-4.5,84),(6,88),(7.5,86),(9,84),(10.5,82),(-3,80),(-2,78),(-1,80),(.5,78),(2,80),(3,78),(4,80),(5,79),(6,80),(7,77),(8,75),(-5.5,76),(-4.5,74),(-3.5,78),(-2.5,74),(-1.5,72),(-.5,75),(.8,72),(2.5,76),(3.5,71),(4.5,74),(6.5,73),(-3.8,68),(-2.7,67),(-.7,67),(.5,68),(1.5,66),(3,66),(4.5,65),(5.5,64),(7,66),(-1.5,62),(-.3,61),(1,62),(2.5,60),(3.5,60),(4.8,61),(-4.5,61),(-5.5,55),(-3.5,57),(-2.5,59),(-1.5,56),(.2,58),(1.5,56),(2.7,58),(4.2,55),(5.5,57),(7.8,52),(6,52),(5,53),(3.5,50),(2,47),(.5,50),(-1,49),(-2,52),(-3,51),(-5,52),(-1.5,44),(.8,43),(3.8,42),(5.5,42),(7,42),(1.8,41),(-3,42),(-.8,41)]
g4_pts = [(-18.7,61),(-14.8,55),(-14.8,61),(-14.8,47),(-13.5,39),(-13.2,86),(-13.2,71),(-12.3,71),(-13,58),(-13,55),(-13,52),(-12.3,48),(-11.7,52),(-11,58),(-11.3,79),(-10.7,82),(-10.3,87),(-10,90),(-10.2,96),(-10.2,50),(-10.3,47),(-10,44),(-10,40),(-10.2,38),(-9.3,92),(-8.3,109),(-7.1,112),(-7,113),(-7.7,99),(-7.7,88),(-7,105),(-7,101),(-6.5,40),(-6.5,40),(-6.5,46),(-6.5,93),(-4.3,118),(-1.5,125),(-1.5,114),(-.6,111),(.2,112),(4.5,120),(6,119),(4.6,112),(3.3,111),(6.8,111),(8.8,111),(-4.5,103),(-4,102),(-2.7,98),(-3.3,96),(-5,95),(0,105),(-.6,103),(1.5,104),(2.8,105),(4.6,107),(4.5,103),(5.5,102),(6.3,102),(7.7,103),(11.3,105),(12.3,99),(14,100),(11,95),(12.5,94),(12,89),(14,89),(15,89),(10,87),(10.5,87),(11.5,83),(12.5,83),(13.5,76),(15,73),(11,78),(9.5,78),(-11,73),(-9,80),(-8,86),(-8,81),(-7,77),(17.2,61),(15,61),(17.1,51),(14,50),(12.2,50),(12,47),(10,45),(8.5,45),(9.5,48),(8.5,48),(12.7,57),(12,59),(11.5,65),(10.5,65),(10,60),(10.5,55),(12,56),(7.5,39),(8.5,38),(9,32),(6.5,32),(6.2,28),(7,27),(11.3,28),(12.5,20),(9,46),(-4.3,32),(-4.5,26),(-4.3,24),(-4,23),(-4.5,20),(-4,20),(-6.5,20),(-.7,24),(-.8,20),(0,19),(.8,20),(1.3,19),(2.2,20),(4.5,19),(5,20),(6,19),(6.3,20),(2.2,6),(-.3,31),(-1.5,34),(-2,37),(-1.5,38),(-4,38),(.2,38),(3,37),(3.2,33),(4.7,37),(5.2,33),(3.7,27),(3.2,27),(-3,42),(-2,40),(0,42),(1,41),(3,41),(5,42),(6,43),
(-7,88),(-6,91),(-5,89),(-4,93),(-3,91),(-2,95),(-1,92),(0,96),(1,94),(2,92),(3,95),(4,91),(5,93),(6,89),(7,91),(8,87),(-8,84),(-8.7,80),(-9,76),(-9.5,72),(-9,68),(-9.8,65),(-9.2,61),(-9.7,57),(-9,54),(-8.7,50),(-8,48),(-7,47),(-6,46),(-5,44),(-4,42),(-3,43),(-2,41),(-1,39),(0,40),(1,38),(2,40),(3,39),(4,41),(5,44),(6,46),(7,48),(8,50),(8.5,53),(9.5,56),(9,60),(10,63),(9.7,67),(10,71),(9.5,75),(10,79),(9,83),(8.5,85),(7.5,53),(-8,58),(-8,70),(8,75),(8,62),(-7.5,78)]

# saturated part of each black cloud: (y levels, left x, right x)
g_core = {
    0: [([38, 42, 46, 50, 55, 60, 65, 70, 75, 80, 85, 88, 92, 96], [-1, -4, -7, -8, -7.5, -8.5, -8, -8.5, -7.5, -7, -6.5, -5, -3, -1], [1, 4, 6.5, 7.5, 8.5, 8, 9, 8.5, 9, 8, 7.5, 6, 4, 1])],
    1: [([76, 80, 85, 90, 95, 100, 105, 110, 114, 117], [0, -1.5, -3, -3, -2, -2, -1.5, -1, 0, 1], [1, 3, 4, 3.5, 3, 3.5, 4, 4.5, 3.5, 2.5])],
    2: [([93, 97, 102, 108, 113, 118, 122], [0, -2.5, -3, -3.5, -3, -2, 0], [2, 4.5, 5.5, 5, 5, 4, 2.5]), ([79, 83, 86, 90, 93], [0, -2, -4.5, -3.5, -1], [2, 4, 6, 5, 2])],
    3: [([40, 44, 48, 52, 57, 62, 67, 72, 77, 82, 86, 90, 94], [-.5, -3, -6, -7.5, -8, -8.5, -8, -8.5, -7.5, -6.5, -5.5, -3, -1], [1, 3.5, 6, 7.5, 8, 9, 8.5, 9, 8.5, 8, 6.5, 5, 1.5])],
}
g_specks = [
    [(1.2, 83), (-1.5, 79), (4, 85), (-4, 75), (2.5, 63), (-.5, 58), (1, 47), (-2.5, 50), (3.3, 72)],
    [(1, 100), (-.5, 108), (2.5, 112), (1.5, 82)],
    [(0, 104), (1.3, 106), (2.5, 101), (.8, 110), (1, 84)],
    [(-.5, 78), (3, 72), (-3, 57), (2, 52), (-5, 82), (5, 60), (1, 86)],
]
g_line_x = [(-18.7, 17.3), (-14.8, 17.4), (-14.6, 17.3), (-18.7, 17.3)]
g_line_y = [(64, 68.5), (92, 83.6), (89, 90.3), (65.4, 70)]
g_rib_x = [(-18.7, 0, 17.3), (-14.8, 1, 17.4), (-14.6, 1, 17.3), (-18.7, 0, 17.3)]
g_rib_lo = [(60.5, 65.3, 65.5), (85.4, 86.6, 76.4), (83.7, 86.7, 84.8), (62.7, 67, 67.6)]
g_rib_hi = [(67, 67.3, 71.5), (98.5, 90.5, 90.6), (94.2, 91, 96), (68.2, 70, 72.8)]
g_stats = [('0.01', '0.08'), ('\u22120.007', '0.5'), ('0.005', '0.5'), ('0.01', '0.08')]
g_yticks = [[25, 50, 75, 100, 125], [60, 90, 120], [50, 100], [25, 50, 75, 100, 125]]

fig = plt.figure(figsize=(W / 100, H / 100), dpi=100, facecolor='white')


def add_ax(l, t, r, b):
    ax = fig.add_axes([l / W, 1 - b / H, (r - l) / W, (b - t) / H])
    ax.set_axisbelow(True)
    for s in ax.spines.values():
        s.set_color(DARK)
        s.set_linewidth(1.1)
    ax.tick_params(colors=DARK, labelcolor='#4a4a4a', length=3.5, width=0.9, labelsize=11.5, pad=2)
    return ax


def hgrid(ax, vticks=None):
    ax.grid(axis='y', color='#e8e8e8', lw=1.1)
    if vticks is not None:
        for v in vticks:
            ax.axvline(v, color='white', lw=1.0, zorder=0.6)


def mtick(vals):
    return [str(v).replace('-', '\u2212') for v in vals]


# Panel A
axA = add_ax(65, 4, 441, 467)
axA.set_xlim(0.4, 10.6)
axA.set_ylim(-22.0, 24.0)
yt = list(range(-20, 21, 4))
axA.set_yticks(yt, mtick(yt))
axA.set_xticks(deciles, [''] * 10)
for i, lab in enumerate(mz_labels):
    axA.annotate(lab, (i + 1, 0), xycoords=('data', 'axes fraction'), xytext=(0, -34.5), textcoords='offset points',
                 ha='center', va='center', rotation=90, fontsize=11.3, color='#4a4a4a')
hgrid(axA, deciles)
for i, c in enumerate(mz_colors):
    axA.scatter([i + 1, i + 1], [mz_first[i], mz_second[i]], s=30, color=c, linewidths=0, zorder=3)

# Panel B
axB = add_ax(530, 67, 901, 523)
axB.set_xlim(-20.5, 23.3)
axB.set_ylim(-0.0026, 0.0807)
axB.set_xticks([-20, -10, 0, 10, 20], mtick([-20, -10, 0, 10, 20]))
axB.set_yticks([0, .02, .04, .06, .08], ['0.00', '0.02', '0.04', '0.06', '0.08'])
hgrid(axB, [-20, -10, 0, 10, 20])
axB.plot(dens_x, dens_mssng, color='#2FAE2A', lw=1.35, zorder=3)
axB.plot(dens_x, dens_ssc, color='#4F8CF5', lw=1.35, zorder=3)
axB.plot(dens_x, dens_1000g, color='#EE5B50', lw=1.35, zorder=3)


def strip_panel(ax, boxes, clouds, all_pts, all_specks):
    colors = [GREEN, GREEN, BLUE, TEAL]
    alphas = [.6, .33, .6, .6]
    for i, (pts, c) in enumerate(zip(all_pts, colors)):
        if clouds[i] is not None:
            for (lo, hi), a, hw in zip(clouds[i], cloud_alpha, cloud_halfwidth):
                ax.fill_between([i + 1 - hw, i + 1 + hw], lo, hi, color=c, alpha=a, lw=0, zorder=2)
        ax.scatter([i + 1 + p[0] for p in pts], [p[1] for p in pts], s=34, color=c, alpha=alphas[i], linewidths=0, zorder=2.5)
        if all_specks[i]:
            ax.scatter([i + 1 + p[0] for p in all_specks[i]], [p[1] for p in all_specks[i]], s=7, color='white', alpha=.55, linewidths=0, zorder=2.6)
    stats = [dict(q1=b[0], med=b[1], q3=b[2], whislo=b[3], whishi=b[4], fliers=[]) for b in boxes]
    ax.bxp(stats, positions=[1, 2, 3, 4], widths=0.75, showcaps=False, showfliers=False, manage_ticks=False,
           boxprops=dict(color='#2b2b2b', lw=1.5), medianprops=dict(color='#2b2b2b', lw=2.8, solid_capstyle='butt'),
           whiskerprops=dict(color='#222222', lw=1.3), zorder=4)
    ax.set_xlim(0.4, 4.6)
    ax.set_xticks([1, 2, 3, 4], group_labels, fontsize=10.4, linespacing=1.05)


# Panel C
axC = add_ax(985, 4, 1361, 515)
axC.set_ylim(-20.8, 29.25)
axC.set_yticks([-20, -10, 0, 10, 20], mtick([-20, -10, 0, 10, 20]))
hgrid(axC, [1, 2, 3, 4])
strip_panel(axC, c_box, c_cloud, [c1_pts, c2_pts, c3_pts, c4_pts], [c1_specks, [], c3_specks, c4_specks])
axC.plot([1, 1, 4, 4], [21.4, 22.0, 22.0, 21.4], color=DARK, lw=1.0, zorder=5)
axC.plot([3, 3, 4, 4], [17.4, 18.0, 18.0, 17.4], color=DARK, lw=1.0, zorder=5)
axC.text(2.5, 22.1, 'p = 1.9e\u221202', ha='center', va='bottom', fontsize=12.7, color='#111111')
axC.text(3.5, 18.1, 'p = 2.9e\u221203', ha='center', va='bottom', fontsize=12.7, color='#111111')

# Panel D
axD = add_ax(65, 601, 441, 1112)
axD.set_ylim(-13.8, 16.4)
axD.set_yticks([-10, -5, 0, 5, 10, 15], mtick([-10, -5, 0, 5, 10, 15]))
hgrid(axD, [1, 2, 3, 4])
strip_panel(axD, d_box, d_cloud, [d1_pts, d2_pts, d3_pts, d4_pts], [d1_specks, [], d3_specks, d4_specks])
axD.text(0.47, 14.95, 'p = 2.2e\u221207', ha='left', va='center', fontsize=12.7, color='#111111')
axD.text(2.47, 14.95, 'p = 3.8e\u221208', ha='left', va='center', fontsize=12.7, color='#111111')

# Panel E
axE = add_ax(520, 664, 901, 1124)
axE.set_xlim(0.58, 10.42)
axE.set_ylim(0.934, 1.595)
axE.set_xticks(deciles, [str(d) for d in deciles])
axE.set_yticks([1.0, 1.1, 1.2, 1.3, 1.4, 1.5], ['1.0', '1.1', '1.2', '1.3', '1.4', '1.5'])
hgrid(axE, deciles)
axE.plot(deciles, or_1000g, '-o', color=RED_LINE, lw=1.4, ms=5.2, mfc='#F8766D', mec='#F8766D', zorder=3)
axE.plot(deciles, or_sibs, '-o', color='#00B3B8', lw=1.4, ms=5.2, mfc='#00BFC4', mec='#00BFC4', zorder=3)

# Panel G
g_boxes = [(59, 328), (404, 673), (750, 1019), (1095, 1364)]
g_ylims = [(13.5, 125.3), (35.1, 146.8), (22.5, 147.5), (0.2, 131)]
for k, pts in enumerate([g1_pts, g2_pts, g3_pts, g4_pts]):
    ax = add_ax(g_boxes[k][0], 1195, g_boxes[k][1], 1550)
    ax.set_xlim(-22, 22)
    ax.set_ylim(*g_ylims[k])
    ax.set_xticks([-20, -10, 0, 10, 20], mtick([-20, -10, 0, 10, 20]))
    ax.set_yticks(g_yticks[k], [str(v) for v in g_yticks[k]])
    for yy, xl, xr in g_core[k]:
        ax.fill_betweenx(yy, xl, xr, color='black', lw=0, zorder=2)
    ax.scatter([p[0] for p in pts], [p[1] for p in pts], s=44, color='black', linewidths=0, zorder=2.5)
    ax.scatter([p[0] for p in g_specks[k]], [p[1] for p in g_specks[k]], s=8, color='white', linewidths=0, zorder=2.6)
    ax.fill_between(g_rib_x[k], g_rib_lo[k], g_rib_hi[k], color='#999999', alpha=.45, lw=0, zorder=3)
    ax.plot(g_line_x[k], g_line_y[k], color='#3366FF', lw=2.3, zorder=4)

# overlay in pixel coordinates for labels, legends and the pedigrees
ov = fig.add_axes([0, 0, 1, 1], zorder=20)
ov.set_xlim(0, W)
ov.set_ylim(H, 0)
ov.axis('off')
ov.patch.set_alpha(0)


def T(x, y, s, size=13.5, **kw):
    kw.setdefault('ha', 'center')
    kw.setdefault('va', 'center')
    kw.setdefault('color', '#111111')
    ov.text(x, y, s, fontsize=size, **kw)


for s, x, y in [('A', 9, 10), ('B', 468, 10), ('C', 928, 10), ('D', 9, 607), ('E', 468, 607), ('F', 926, 607), ('G', 10, 1204)]:
    T(x, y, s, size=15.5, fontweight='bold', color='black')

T(13, 236, 'PRS', 16, rotation=90)
T(715, 567, 'PRS', 16)
T(473, 297, 'Density', 16, rotation=90)
T(934, 259, 'PRS', 16, rotation=90)
T(14, 856, 'PRS overtransmission', 16.3, rotation=90)
T(473, 893, 'Odds ratio', 16, rotation=90)
T(711, 1165, 'Decile', 16)

g_label_x = [9, 353, 699, 1045]
for k, lab in enumerate(g_titles):
    T(g_label_x[k], 1373 if k != 1 else 1329, lab, 12.7, rotation=90)
    T((g_boxes[k][0] + g_boxes[k][1]) / 2, 1585, 'PRS', 12.5)

stat_pos = [(77, 1228, 77, 1252), (411, 1228, 427, 1252), (763, 1226, 773, 1248), (1113, 1226, 1113, 1248)]
for k, (b, p) in enumerate(g_stats):
    x1, y1, x2, y2 = stat_pos[k]
    T(x1, y1, r'$\mathit{B}$ = ' + b, 12.2, ha='left')
    T(x2, y2, r'$\mathit{p}$ = ' + p, 12.2, ha='left')

# legend B
for x0, c, lab, tx in [(602, '#2FAE2A', 'MSSNG', 637), (694, '#4F8CF5', 'SSC', 728), (764, '#EE5B50', '1000G', 800)]:
    ov.add_patch(Rectangle((x0 + .5, 14), 25, 25, fc='#f2f2f2', ec=c, lw=1.1))
    T(tx, 27, lab, 9.5, ha='left')

# legend E
T(520, 625, 'Individuals without ASD', 11.5, ha='left')
for x0, lc, mc, lab, tx in [(697, RED_LINE, '#F8766D', '1000G', 732), (778, '#00B3B8', '#00BFC4', 'Siblings without\nASD', 812)]:
    ov.add_patch(Rectangle((x0, 611), 26, 26, fc='#f0f0f0', ec='none'))
    ov.plot([x0 + 3, x0 + 23], [624, 624], color=lc, lw=1.3)
    ov.plot([x0 + 13], [624], 'o', color=mc, ms=5.5)
    T(tx, 625, lab, 9, ha='left', linespacing=1.05)

# Pedigrees
FAM_RED = '#B5121B'
PLW = 1.2


def ped_square(cx, cy, filled):
    ov.add_patch(Rectangle((cx - 17, cy - 17), 34, 34, fc='black' if filled else 'white', ec='black', lw=PLW, zorder=3))


def ped_circle(cx, cy, filled):
    ov.add_patch(Ellipse((cx, cy), 34, 34, fc='black' if filled else 'white', ec='black', lw=PLW, zorder=3))


T(1132, 616, fam1_title, 18.4, color=FAM_RED, fontweight='bold')
ov.plot([1081, 1177], [665, 665], color='black', lw=PLW)
ov.plot([1129, 1129], [665, 726], color='black', lw=PLW)
ov.plot([938, 1320], [726, 726], color='black', lw=PLW)
ped_square(1081, 665, False)
ped_circle(1177, 665, False)
T(1081, 700, fam1_parents[0])
T(1177, 700, fam1_parents[1])
for cx, lab in zip([938, 1033.5, 1129, 1224, 1320], fam1_kids):
    ov.plot([cx, cx], [726, 752], color='black', lw=PLW)
    ped_square(cx, 770, True)
    T(cx, 805, lab)
T(1347, 759, '16q23.3-q24.1 del', ha='left')
T(1347, 782, '1.9 Mb', ha='left')
T(1347, 805, 'de novo', ha='left', style='italic')

T(1132, 852, fam2_title, 18.4, color=FAM_RED, fontweight='bold')
ov.plot([1065, 1192], [901, 901], color='black', lw=PLW)
ov.plot([1129, 1129], [901, 963], color='black', lw=PLW)
ov.plot([938, 1320], [963, 963], color='black', lw=PLW)
ped_square(1065, 901.5, False)
ped_circle(1192, 901.5, False)
T(1065, 936, fam2_parents[0])
T(1192, 936, fam2_parents[1])
for cx, lab, sex in zip([938, 1065, 1192, 1320], fam2_kids, fam2_kid_sex):
    ov.plot([cx, cx], [963, 989], color='black', lw=PLW)
    (ped_circle if sex == 'f' else ped_square)(cx, 1006, True)
    T(cx, 1041, lab)

fig.savefig('out.png', dpi=100)
